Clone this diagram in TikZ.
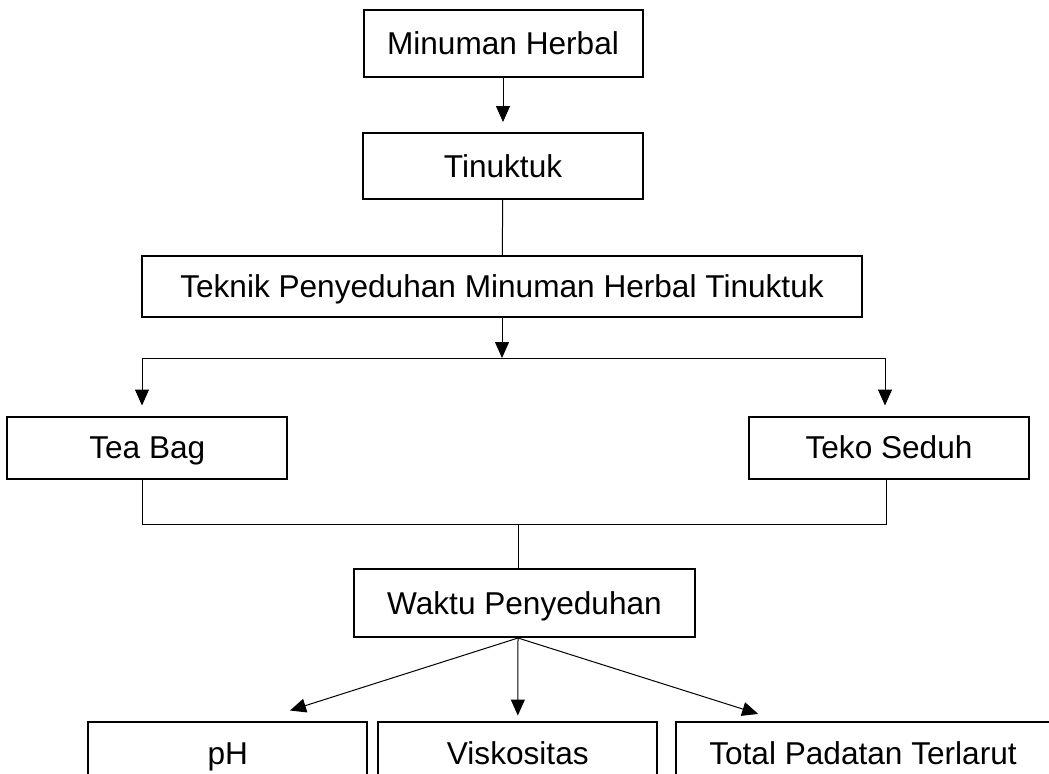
\documentclass[tikz,border=0pt]{standalone}
\usepackage{fontspec}
\setmainfont{Liberation Sans}
\usetikzlibrary{arrows.meta}
\tikzset{kotak/.style={draw,line width=1pt,inner sep=0pt,minimum width=#1,text height=11.3pt,text depth=0pt,font=\fontsize{15.8}{19}\selectfont},
         panah/.style={-{Triangle[length=8pt,width=7pt]},line width=0.5pt}}

\begin{document}
\begin{tikzpicture}[x=0.5pt,y=-0.5pt]
        \clip (0,0) rectangle (1049,773);
        \node[kotak=139.5pt,minimum height=33.5pt] (herbal) at (503,43.5) {Minuman Herbal};
        \node[kotak=140pt,minimum height=33pt] (tinuktuk) at (503,166) {Tinuktuk};
        \node[kotak=360pt,minimum height=30.5pt] (teknik) at (502,286.5) {Teknik Penyeduhan Minuman Herbal Tinuktuk};
        \node[kotak=140pt,minimum height=31pt] (teabag) at (147.3,447.5) {Tea Bag};
        \node[kotak=140pt,minimum height=31pt] (teko) at (889,447.5) {Teko Seduh};
        \node[kotak=170.5pt,minimum height=34pt] (waktu) at (524.5,603) {Waktu Penyeduhan};
        \node[kotak=139.5pt,minimum height=31.5pt] (ph) at (227.8,753) {pH};
        \node[kotak=139.5pt,minimum height=31.5pt] (visko) at (517.8,753) {Viskositas};
        \node[kotak=187.5pt,minimum height=31.5pt] (tpt) at (863,753) {Total Padatan Terlarut};
        \coordinate (kiri) at (142,358);
        \coordinate (kanan) at (885,358);
        \coordinate (gabungkiri) at (142,524);
        \coordinate (gabungkanan) at (886,524);
        \coordinate (tengah) at (518,524);
        \draw[panah] (herbal) -- ([yshift=5pt]tinuktuk.north);
        \draw[line width=0.5pt] (tinuktuk) -- (teknik);
        \draw[panah] (teknik.south) -- (teknik.south |- kiri);
        \draw[line width=0.5pt] (kiri) -- (kanan);
        \draw[panah] (kiri) -- ([yshift=5pt]kiri |- teabag.north);
        \draw[panah] (kanan) -- ([yshift=5pt]kanan |- teko.north);
        \draw[line width=0.5pt] (teabag.south -| gabungkiri) -- (gabungkiri) -- (gabungkanan) -- (teko.south -| gabungkanan);
        \draw[line width=0.5pt] (tengah) -- (tengah |- waktu.north);
        \draw[panah] (tengah |- waktu.south) -- ([xshift=31.1pt,yshift=5pt]ph.north);
        \draw[panah] (tengah |- waktu.south) -- ([yshift=2.5pt]visko.north);
        \draw[panah] (tengah |- waktu.south) -- ([xshift=-52.4pt,yshift=3.3pt]tpt.north);
\end{tikzpicture}
\end{document}
